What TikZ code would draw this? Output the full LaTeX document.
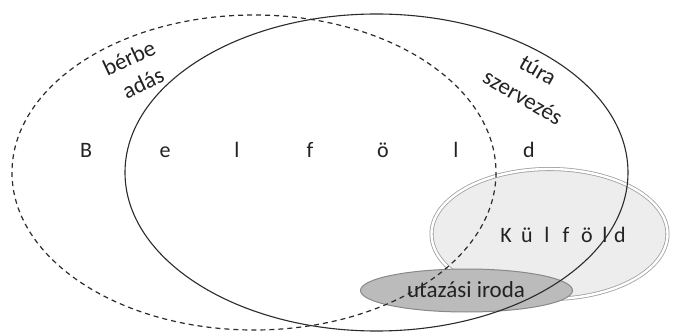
\documentclass[tikz,border=0pt]{standalone}
\usepackage{fontspec}
\setmainfont{Carlito}
\definecolor{linec}{HTML}{2B2B2B}
\definecolor{kulfill}{HTML}{EDEDED}
\definecolor{kulline}{HTML}{A0A0A0}
\definecolor{irfill}{HTML}{BBBBBB}
\definecolor{irline}{HTML}{888888}
\definecolor{textc}{HTML}{222222}
\tikzset{
  lbl/.style={font=\fontsize{23}{28}\selectfont, text=textc, inner sep=0pt},
  bigletter/.style={font=\fontsize{22}{26}\selectfont, text=textc, inner sep=0pt, anchor=base},
  setline/.style={draw=linec, line width=1.1pt},
  dashline/.style={draw=linec, line width=1.2pt, dash pattern=on 5pt off 4pt},
}
\begin{document}
\begin{tikzpicture}[x=1pt,y=-1pt]
\useasboundingbox (0,0) rectangle (673,334);
\fill[white] (0,0) rectangle (673,334);
% Kulfold set
\path[fill=kulfill, draw=kulline, line width=0.8pt, double=white, double distance=2.4pt]
  (549.5,234) ellipse [x radius=118, y radius=65];
% utazasi iroda set
\path[fill=irfill, draw=irline, line width=1pt]
  (466.5,290.5) ellipse [x radius=106, y radius=21.5];
% berbe adas (dashed)
\path[dashline] (254,172.5) ellipse [x radius=242, y radius=157.5];
% tura szervezes (solid)
\path[setline] (376.5,172.5) ellipse [x radius=251.5, y radius=158.5];
% labels
\node[lbl, rotate=25] (berbe) at (129,58) {bérbe};
\node[lbl, rotate=25] (adas) at (143,83) {adás};
\node[lbl, rotate=-30] (tura) at (538,70) {túra};
\node[lbl, rotate=-30] (szerv) at (523,97) {szervezés};
\node[bigletter] (b1) at (86,158) {B};
\node[bigletter] (b2) at (165,158) {e};
\node[bigletter] (b3) at (237,158) {l};
\node[bigletter] (b4) at (310,158) {f};
\node[bigletter] (b5) at (383,158) {ö};
\node[bigletter] (b6) at (456,158) {l};
\node[bigletter] (b7) at (529,158) {d};
\node[bigletter] (k1) at (506,243) {K};
\node[bigletter] (k2) at (527,243) {ü};
\node[bigletter] (k3) at (547,243) {l};
\node[bigletter] (k4) at (566,243) {f};
\node[bigletter] (k5) at (587,243) {ö};
\node[bigletter] (k6) at (605,243) {l};
\node[bigletter] (k7) at (620,243) {d};
\node[lbl, anchor=base] (iroda) at (466,298) {utazási iroda};
\end{tikzpicture}
\end{document}
